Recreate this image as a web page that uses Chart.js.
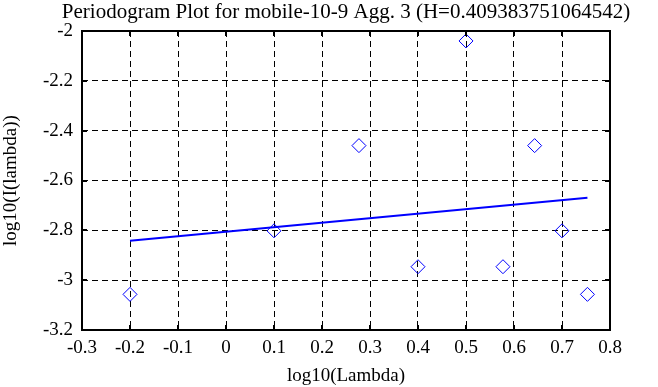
<!DOCTYPE html>
<html>
<head>
<meta charset="utf-8">
<script src="https://cdn.jsdelivr.net/npm/chart.js@4/dist/chart.umd.min.js"></script>
<style>
html,body{margin:0;padding:0;background:#fff;}
canvas{display:block;}
</style>
</head>
<body>
<canvas id="c" width="658" height="387"></canvas>
<script>
// Periodogram points (log10 frequency vs log10 intensity)
const pointX = [-0.2, 0.1, 0.277, 0.4, 0.5, 0.577, 0.643, 0.7, 0.753];
const pointY = [-3.057, -2.802, -2.46, -2.946, -2.040, -2.946, -2.46, -2.802, -3.057];
// Fitted regression line endpoints
const fitX = [-0.2, 0.753];
const fitY = [-2.842, -2.669];
// Tick values
const xTicks = [-0.3, -0.2, -0.1, 0, 0.1, 0.2, 0.3, 0.4, 0.5, 0.6, 0.7, 0.8];
const yTicks = [-3.2, -3, -2.8, -2.6, -2.4, -2.2, -2];

const titleText = 'Periodogram Plot for mobile-10-9 Agg. 3 (H=0.409383751064542)';
const xTitle = 'log10(Lambda)';
const yTitle = 'log10(I(lambda))';
const FONT = 'Liberation Serif';

const fmt = v => String(Math.round(v * 10) / 10);

const framePlugin = {
  id: 'frame',
  afterDraw(chart) {
    const ctx = chart.ctx;
    const a = chart.chartArea;
    const xs = chart.scales.x, ys = chart.scales.y;
    ctx.save();
    ctx.strokeStyle = '#000';
    ctx.lineWidth = 2;
    ctx.setLineDash([]);
    ctx.strokeRect(a.left, a.top, a.right - a.left, a.bottom - a.top);
    const L = 5;
    ctx.beginPath();
    xTicks.forEach(v => {
      const px = Math.round(xs.getPixelForValue(v));
      ctx.moveTo(px, a.bottom); ctx.lineTo(px, a.bottom - L);
      ctx.moveTo(px, a.top); ctx.lineTo(px, a.top + L);
    });
    yTicks.forEach(v => {
      const py = Math.round(ys.getPixelForValue(v));
      ctx.moveTo(a.left, py); ctx.lineTo(a.left + L, py);
      ctx.moveTo(a.right, py); ctx.lineTo(a.right - L, py);
    });
    ctx.stroke();
    // title
    ctx.fillStyle = '#000';
    ctx.font = '21px "' + FONT + '"';
    ctx.textAlign = 'center';
    ctx.textBaseline = 'middle';
    ctx.fillText(titleText, (a.left + a.right) / 2, 12);
    ctx.restore();
  }
};

const bgPlugin = {
  id: 'bg',
  beforeDraw(chart) {
    const ctx = chart.ctx;
    ctx.save();
    ctx.fillStyle = '#fff';
    ctx.fillRect(0, 0, chart.width, chart.height);
    ctx.restore();
  }
};

new Chart(document.getElementById('c'), {
  type: 'scatter',
  data: {
    datasets: [
      {
        label: 'fit',
        data: fitX.map((x, i) => ({x, y: fitY[i]})),
        showLine: true,
        borderColor: '#0000ff',
        borderWidth: 2,
        pointRadius: 0,
        fill: false
      },
      {
        label: 'periodogram',
        data: pointX.map((x, i) => ({x, y: pointY[i]})),
        showLine: false,
        pointStyle: 'rectRot',
        pointRadius: 7,
        pointBorderColor: '#0000ff',
        pointBackgroundColor: 'rgba(0,0,0,0)',
        pointBorderWidth: 1
      }
    ]
  },
  plugins: [bgPlugin, framePlugin],
  options: {
    responsive: false,
    animation: false,
    devicePixelRatio: 1,
    layout: { padding: { left: 0, right: 48, top: 31, bottom: 0 } },
    plugins: {
      legend: { display: false },
      tooltip: { enabled: false },
      title: { display: false }
    },
    scales: {
      x: {
        type: 'linear',
        min: -0.3, max: 0.8,
        afterBuildTicks(s) { s.ticks = xTicks.map(v => ({value: v})); },
        afterFit(s) { s.height = 57; },
        ticks: {
          callback: v => fmt(v),
          color: '#000',
          font: { family: FONT, size: 19 },
          padding: 7,
          maxRotation: 0,
          autoSkip: false
        },
        grid: {
          color: '#000',
          lineWidth: 1,
          drawTicks: false
        },
        border: { display: false, dash: [6, 4] },
        title: {
          display: true,
          text: xTitle,
          color: '#000',
          font: { family: FONT, size: 19 },
          padding: { top: 0, bottom: 0 }
        }
      },
      y: {
        type: 'linear',
        min: -3.2, max: -2,
        afterBuildTicks(s) { s.ticks = yTicks.map(v => ({value: v})); },
        afterFit(s) { s.width = 82; },
        ticks: {
          callback: v => fmt(v),
          color: '#000',
          font: { family: FONT, size: 19 },
          padding: 9,
          autoSkip: false
        },
        grid: {
          color: '#000',
          lineWidth: 1,
          drawTicks: false
        },
        border: { display: false, dash: [6, 4] },
        title: {
          display: true,
          text: yTitle,
          color: '#000',
          font: { family: FONT, size: 19 },
          padding: { top: 0, bottom: 0 }
        }
      }
    }
  }
});
</script>
</body>
</html>
